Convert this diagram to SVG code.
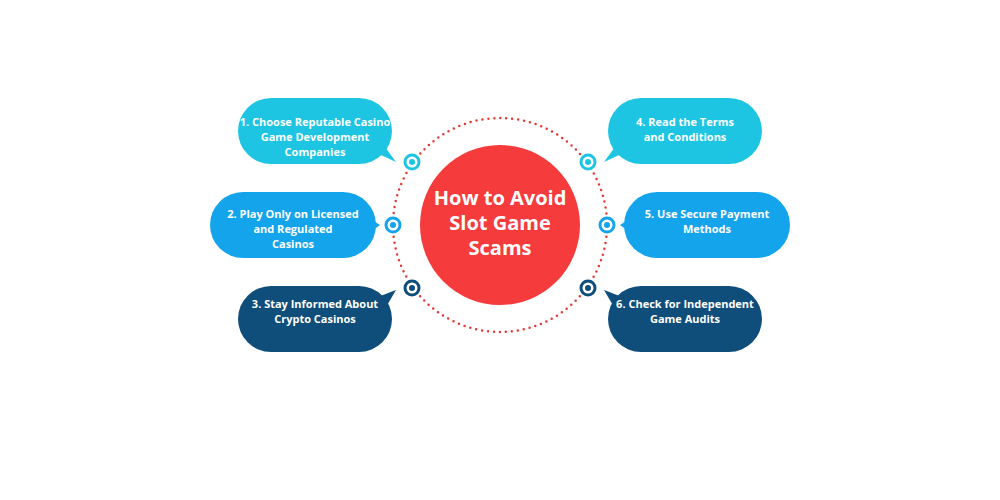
<svg xmlns="http://www.w3.org/2000/svg" width="1000" height="500" viewBox="0 0 1000 500">
<style>
.t{font-family:"Open Sans","Liberation Sans",sans-serif;font-weight:bold;font-size:11px;fill:#fff;text-anchor:middle}
.h{font-family:"Open Sans","Liberation Sans",sans-serif;font-weight:bold;font-size:20px;fill:#fff;text-anchor:middle}
.c{fill:#1DC5E3}.b{fill:#14A4EC}.n{fill:#0F4E7B}
.rc{fill:#fff;stroke-width:3}
</style>
<rect width="1000" height="500" fill="#fff"/>
<g id="connectors">
<circle cx="500" cy="225" r="107" fill="none" stroke="#E53935" stroke-width="2.5" stroke-dasharray="0 6" stroke-linecap="round"/>
</g>
<g id="center"><circle cx="500" cy="225" r="80" fill="#F53B3B"/>
<text class="h" x="500" y="205">How to Avoid</text><text class="h" x="500" y="230">Slot Game</text><text class="h" x="500" y="255">Scams</text></g>
<g id="n1"><rect class="c" x="238" y="98" width="154" height="66" rx="33"/><path class="c" d="M370 150 L396 162 L380 140Z"/>
<text class="t" x="315" y="126">1. Choose Reputable Casino</text><text class="t" x="315" y="141">Game Development</text><text class="t" x="315" y="156">Companies</text>
<circle class="rc" stroke="#1DC5E3" cx="412" cy="162" r="7"/><circle cx="412" cy="162" r="3" fill="#1DC5E3"/></g>
<g id="n2"><rect class="b" x="210" y="192" width="166" height="66" rx="33"/><path class="b" d="M360 212 L380 225 L362 238Z"/>
<text class="t" x="293" y="218">2. Play Only on Licensed</text><text class="t" x="293" y="233">and Regulated</text><text class="t" x="293" y="248">Casinos</text>
<circle class="rc" stroke="#14A4EC" cx="393" cy="225" r="7"/><circle cx="393" cy="225" r="3" fill="#14A4EC"/></g>
<g id="n3"><rect class="n" x="238" y="286" width="154" height="66" rx="33"/><path class="n" d="M370 300 L396 290 L382 314Z"/>
<text class="t" x="315" y="308">3. Stay Informed About</text><text class="t" x="315" y="323">Crypto Casinos</text>
<circle class="rc" stroke="#0F4E7B" cx="412" cy="288" r="7"/><circle cx="412" cy="288" r="3" fill="#0F4E7B"/></g>
<g id="n4"><rect class="c" x="608" y="98" width="154" height="66" rx="33"/><path class="c" d="M630 150 L604 162 L620 140Z"/>
<text class="t" x="685" y="126">4. Read the Terms</text><text class="t" x="685" y="141">and Conditions</text>
<circle class="rc" stroke="#1DC5E3" cx="588" cy="162" r="7"/><circle cx="588" cy="162" r="3" fill="#1DC5E3"/></g>
<g id="n5"><rect class="b" x="624" y="192" width="166" height="66" rx="33"/><path class="b" d="M640 212 L620 225 L638 238Z"/>
<text class="t" x="707" y="218">5. Use Secure Payment</text><text class="t" x="707" y="233">Methods</text>
<circle class="rc" stroke="#14A4EC" cx="607" cy="225" r="7"/><circle cx="607" cy="225" r="3" fill="#14A4EC"/></g>
<g id="n6"><rect class="n" x="608" y="286" width="154" height="66" rx="33"/><path class="n" d="M630 300 L604 290 L618 314Z"/>
<text class="t" x="685" y="308">6. Check for Independent</text><text class="t" x="685" y="323">Game Audits</text>
<circle class="rc" stroke="#0F4E7B" cx="588" cy="288" r="7"/><circle cx="588" cy="288" r="3" fill="#0F4E7B"/></g>
</svg>
